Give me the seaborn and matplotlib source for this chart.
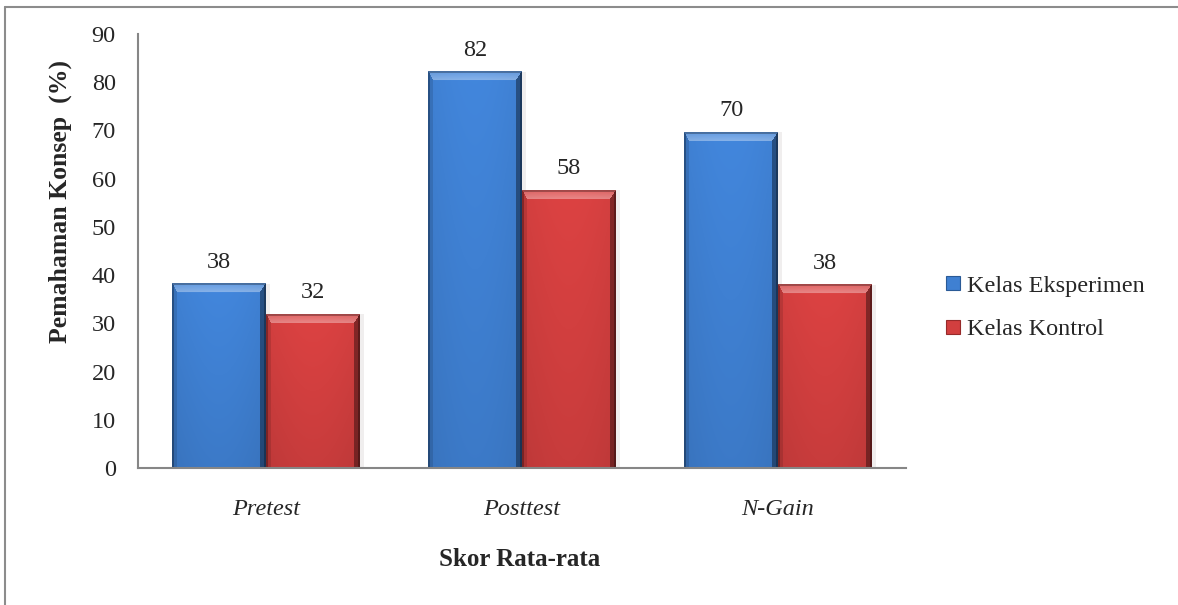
# -*- coding: utf-8 -*-
import numpy as np
import pandas as pd
import seaborn as sns
import matplotlib.pyplot as plt
from matplotlib.lines import Line2D
from matplotlib.colors import to_rgb

kategori = ['Pretest', 'Posttest', 'N-Gain']
kelas = ['Kelas Eksperimen', 'Kelas Kontrol']
eksperimen = [38.2, 82.2, 69.6]
kontrol = [31.9, 57.6, 38.0]
warna = ['#3f80d2', '#d23f3f']

df = pd.DataFrame({
    'Kategori': kategori * 2,
    'Kelas': [kelas[0]] * len(kategori) + [kelas[1]] * len(kategori),
    'Nilai': eksperimen + kontrol,
})

sns.set_style('white')
plt.rcParams['font.family'] = ['Liberation Serif', 'DejaVu Serif']

W_FIG, H_FIG = 1178, 605
fig = plt.figure(figsize=(W_FIG / 100, H_FIG / 100), dpi=100)
ax = fig.add_axes([138 / W_FIG, 1 - 468 / H_FIG, 768 / W_FIG, 434 / H_FIG])

sns.barplot(data=df, x='Kategori', y='Nilai', hue='Kelas', order=kategori,
            hue_order=kelas, palette=warna, saturation=1, width=0.734,
            errorbar=None, legend=False, linewidth=0, ax=ax)
ax.set_xlim(-0.5, 2.5)
ax.set_ylim(0, 90)


def bevel_img(rgb, W, H):
    # kotak dengan efek timbul ala Excel
    rgb = np.array(rgb)
    i = np.arange(H)[:, None] * np.ones((1, W))
    j = np.arange(W)[None, :] * np.ones((H, 1))
    u = j / max(W - 1, 1)
    v = i / max(H - 1, 1)
    shade = 1.0 + 0.05 * np.sin(np.pi * u) - 0.10 * v
    img = np.clip(rgb[None, None, :] * shade[..., None], 0, 1)
    dt = i / 9.0
    dl = j / 5.0
    dr = (W - 1 - j) / 6.0
    m = np.minimum(np.minimum(dt, dl), dr)
    top = (dt == m) & (m < 1)
    left = (dl == m) & (m < 1) & ~top
    right = (dr == m) & (m < 1) & ~top & ~left
    # bagian atas makin terang ke arah dalam
    k = (0.18 + 0.2 * dt[top])
    img[top] = img[top] + (1 - img[top]) * k[:, None]
    img[left] = img[left] * 0.88
    img[right] = img[right] * 0.62
    edge = (i < 1.5) | (j < 1.5) | (j > W - 2.5)
    img[edge] = img[edge] * 0.72
    return img


fig.canvas.draw()
for container, c in zip(ax.containers, warna):
    for p in container.patches:
        x0, y0 = p.get_x(), p.get_y()
        x1, y1 = x0 + p.get_width(), y0 + p.get_height()
        (px0, py0), (px1, py1) = ax.transData.transform([(x0, y0), (x1, y1)])
        W = int(round(px1 - px0))
        H = int(round(py1 - py0))
        # bayangan tipis
        ax.bar(x1 + 2 / 256, p.get_height(), width=4 / 256, bottom=0,
               color='#d0c8c8', alpha=0.3, linewidth=0, zorder=0.5)
        ax.imshow(bevel_img(to_rgb(c), W, H), extent=(x0, x1, y0, y1),
                  aspect='auto', origin='upper', interpolation='bilinear',
                  zorder=p.get_zorder() + 0.1)
    ax.bar_label(container, fmt='{:.0f}', padding=8, fontsize=17.5, zorder=5)

ax.set_xlim(-0.5, 2.5)
ax.set_ylim(0, 90)
ax.set_yticks(range(0, 91, 10))
ax.tick_params(axis='y', length=0, pad=16, labelsize=17.5)
ax.tick_params(axis='x', length=0, pad=22, labelsize=17.5)
for t in ax.get_xticklabels():
    t.set_fontstyle('italic')

ax.set_xlabel('Skor Rata-rata', fontsize=18, fontweight='bold')
ax.set_ylabel('Pemahaman Konsep  (%)', fontsize=18.5, fontweight='bold')
ax.xaxis.set_label_coords(0.497, -0.185)
ax.yaxis.set_label_coords(-0.086, 0.613)

for s in ['top', 'right']:
    ax.spines[s].set_visible(False)
for s in ['left', 'bottom']:
    ax.spines[s].set_color('#868686')
    ax.spines[s].set_linewidth(1.5)

handles = [Line2D([], [], marker='s', linestyle='none', markersize=9.5,
                  markerfacecolor=c, markeredgecolor=e, markeredgewidth=0.8)
           for c, e in zip(warna, ['#2a5a96', '#962a2a'])]
fig.legend(handles, kelas, loc='center left', bbox_to_anchor=(944 / W_FIG, 1 - 307.5 / H_FIG),
           frameon=False, fontsize=17.5, handlelength=0.75, handletextpad=0.2,
           labelspacing=0.9, borderpad=0, borderaxespad=0)

# bingkai luar
fig.add_artist(Line2D([5 / W_FIG, 1], [1 - 7 / H_FIG] * 2, transform=fig.transFigure,
                      color='#8c8c8c', lw=1.5))
fig.add_artist(Line2D([5 / W_FIG] * 2, [0, 1 - 7 / H_FIG], transform=fig.transFigure,
                      color='#8c8c8c', lw=1.5))

fig.savefig('out.png', dpi=100)
plt.close()
